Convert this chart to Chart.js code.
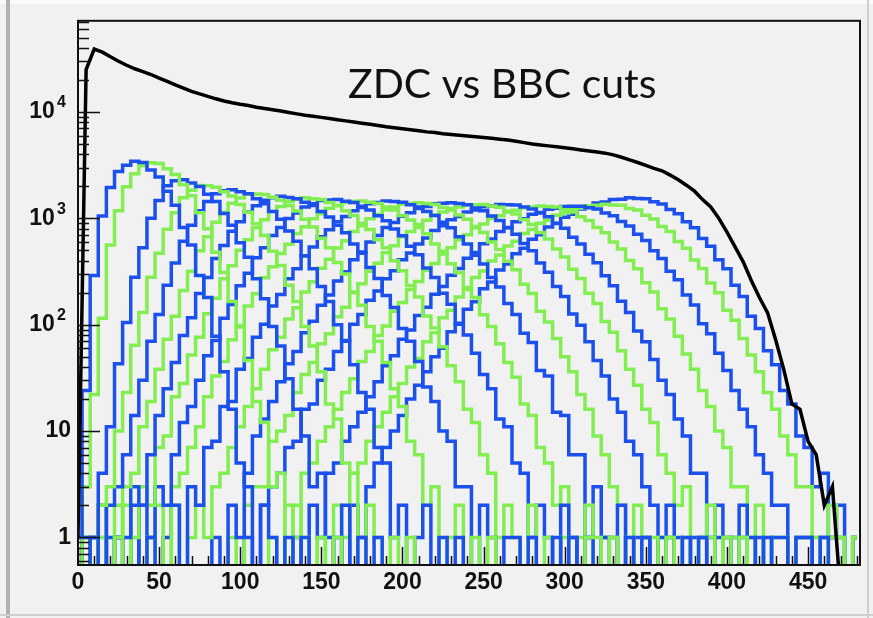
<!DOCTYPE html>
<html>
<head>
<meta charset="utf-8">
<script src="https://cdn.jsdelivr.net/npm/chart.js@4.4.1/dist/chart.umd.min.js"></script>
<style>
  html, body { margin: 0; padding: 0; background: #fff; }
  #wrap { width: 873px; height: 618px; }
</style>
</head>
<body>
<div id="wrap"><canvas id="zdcChart" width="873" height="618"></canvas></div>
<script>
// ZDC spectrum, bins of 5 units from 0 to 480
const binWidth = 5;
const xTickValues = [0, 50, 100, 150, 200, 250, 300, 350, 400, 450];
const yTickValues = [1, 10, 100, 1000, 10000];
const yTickBase = ['1', '10', '10', '10', '10'];
const yTickPower = ['', '', '2', '3', '4'];

// all events (black)
const totalCounts = [1, 25000, 39000, 36500, 33000, 30000, 27500, 25500, 24000, 22500, 20800, 19400, 18000, 16800, 15600, 14800, 14000, 13300, 12700, 12200,
  11800, 11500, 11100, 10800, 10500, 10200, 9900, 9600, 9300, 9100, 8900, 8700, 8450, 8250, 8050, 7850, 7650, 7450, 7250, 7100,
  6950, 6800, 6650, 6500, 6400, 6250, 6150, 6050, 5950, 5850, 5750, 5650, 5550, 5450, 5300, 5150, 5000, 4900, 4800, 4700,
  4600, 4500, 4400, 4300, 4200, 4100, 3950, 3750, 3550, 3350, 3150, 2950, 2800, 2550, 2300, 2050, 1800, 1500, 1280, 1000,
  740, 540, 390, 260, 180, 130, 72, 38, 18, 16, 8, 6, 2, 3, 0, 0, 0];

// BBC cut slices, first bin x of each slice
const cutStart = [0, 0, 5, 0, 0, 0, 0, 5, 10, 15, 25, 35, 85, 95, 105, 120, 135, 150, 160];
const cut00 = [1, 24, 290, 1050, 1950, 2750, 3150, 3450, 3350, 2850, 2450, 1800, 1330, 820, 560, 290, 180, 78, 36, 16, 5, 3, 0, 2, 1, 0, 1, 0, 1];
const cut01 = [0, 3, 22, 115, 560, 1180, 1980, 2620, 3120, 3330, 3270, 2920, 2580, 2070, 1630, 1130, 800, 480, 310, 165, 95, 46, 19, 12, 3, 4, 0, 2, 1, 0, 1, 0, 1];
const cut02 = [1, 0, 4, 11, 43, 105, 280, 530, 1000, 1470, 2030, 2260, 2300, 2150, 1990, 1680, 1440, 1110, 860, 590, 430, 270, 175, 96, 63, 31, 16, 9, 3, 4, 1, 0, 2, 0, 1, 0, 1];
const cut03 = [0, 1, 0, 2, 3, 10, 23, 64, 130, 280, 470, 790, 1130, 1560, 1840, 2040, 2030, 1960, 1780, 1620, 1350, 1140, 890, 690, 490, 360, 235, 165, 96, 63, 36, 18, 13, 5, 4, 0, 2, 1, 0, 1, 0, 1];
const cut04 = [1, 0, 1, 0, 2, 3, 6, 14, 30, 70, 125, 235, 380, 610, 860, 1180, 1440, 1700, 1820, 1860, 1780, 1700, 1530, 1370, 1160, 980, 760, 610, 445, 335, 228, 165, 100, 70, 42, 23, 16, 7, 5, 1, 2, 0, 1, 2, 0, 1, 0, 1];
const cut05 = [0, 1, 0, 2, 0, 1, 3, 4, 11, 19, 38, 73, 120, 210, 318, 495, 670, 920, 1140, 1385, 1550, 1680, 1690, 1675, 1580, 1480, 1320, 1175, 980, 830, 650, 530, 385, 300, 203, 152, 96, 70, 44, 25, 17, 8, 6, 2, 3, 0, 1, 2, 0, 1, 0, 1];
const cut06 = [1, 0, 1, 2, 0, 1, 1, 3, 2, 6, 14, 25, 44, 79, 116, 196, 278, 420, 555, 755, 930, 1150, 1310, 1480, 1560, 1610, 1570, 1530, 1420, 1320, 1160, 1030, 860, 730, 575, 470, 345, 272, 188, 145, 92, 70, 45, 26, 19, 10, 8, 3, 3, 0, 2, 1, 0, 1, 1, 0, 1, 0, 0, 1, 0, 1];
const cut07 = [1, 0, 1, 0, 2, 0, 1, 3, 2, 7, 9, 21, 28, 52, 76, 127, 177, 270, 358, 500, 630, 815, 970, 1160, 1290, 1440, 1500, 1560, 1530, 1500, 1410, 1320, 1180, 1065, 900, 785, 630, 530, 400, 322, 233, 182, 121, 93, 62, 41, 29, 16, 12, 6, 4, 1, 2, 1, 0, 2, 0, 1, 0, 1, 0, 0, 1, 1, 0, 1];
const cut08 = [1, 0, 1, 1, 0, 2, 0, 1, 3, 2, 6, 12, 17, 30, 51, 71, 115, 155, 232, 305, 425, 530, 690, 820, 995, 1120, 1280, 1370, 1470, 1490, 1500, 1450, 1410, 1300, 1200, 1060, 950, 795, 685, 545, 455, 342, 277, 197, 156, 103, 80, 54, 34, 25, 13, 11, 5, 4, 1, 2, 1, 0, 2, 1, 0, 1, 0, 1, 1, 0, 1, 0, 1];
const cut09 = [1, 0, 1, 2, 0, 0, 1, 2, 0, 3, 4, 7, 11, 21, 33, 45, 72, 98, 150, 195, 276, 350, 468, 570, 720, 835, 990, 1105, 1245, 1320, 1410, 1440, 1455, 1415, 1375, 1280, 1200, 1065, 965, 820, 715, 575, 490, 375, 308, 224, 180, 124, 96, 66, 44, 32, 18, 14, 7, 5, 2, 3, 0, 1, 2, 0, 1, 1, 0, 1, 0, 1, 1, 0, 1];
const cut10 = [1, 0, 0, 2, 1, 0, 1, 2, 0, 3, 2, 7, 8, 17, 19, 38, 48, 76, 101, 150, 192, 270, 335, 445, 538, 672, 780, 930, 1040, 1180, 1265, 1370, 1410, 1455, 1440, 1415, 1340, 1280, 1160, 1065, 920, 815, 670, 575, 450, 372, 278, 226, 158, 125, 83, 68, 37, 33, 15, 14, 6, 6, 1, 3, 1, 0, 2, 0, 1, 1, 0, 1, 1, 0, 1, 0, 1];
const cut11 = [1, 0, 1, 0, 0, 2, 0, 1, 2, 1, 3, 4, 7, 11, 17, 25, 38, 58, 76, 113, 144, 203, 254, 340, 412, 525, 615, 750, 850, 990, 1085, 1205, 1270, 1355, 1375, 1405, 1380, 1350, 1265, 1200, 1075, 980, 840, 735, 600, 510, 395, 328, 240, 196, 134, 106, 74, 50, 36, 22, 16, 9, 6, 3, 2, 0, 2, 1, 0, 1, 1, 0, 1, 0, 1, 1, 0, 1, 0, 1];
const cut12 = [1, 0, 2, 1, 4, 9, 13, 19, 29, 43, 56, 84, 108, 152, 190, 258, 314, 408, 482, 598, 690, 820, 915, 1045, 1130, 1240, 1295, 1370, 1385, 1405, 1375, 1340, 1250, 1180, 1050, 955, 815, 710, 580, 495, 380, 312, 228, 184, 126, 99, 69, 46, 33, 20, 15, 8, 6, 3, 2, 0, 2, 1, 0, 1, 1, 0, 1, 1, 0, 1, 1, 0, 1];
const cut13 = [1, 0, 2, 3, 3, 8, 10, 14, 23, 34, 44, 66, 82, 119, 146, 200, 242, 318, 378, 475, 552, 670, 750, 875, 960, 1075, 1145, 1240, 1280, 1340, 1345, 1350, 1305, 1270, 1170, 1100, 970, 875, 735, 640, 515, 432, 332, 272, 198, 158, 107, 85, 57, 38, 27, 16, 12, 6, 4, 2, 3, 0, 1, 2, 0, 1, 1, 0, 1, 0, 1];
const cut14 = [1, 0, 2, 3, 4, 7, 8, 16, 18, 30, 38, 56, 71, 101, 125, 170, 207, 270, 322, 408, 472, 575, 652, 770, 850, 970, 1040, 1145, 1200, 1285, 1310, 1350, 1345, 1335, 1275, 1225, 1120, 1035, 900, 805, 665, 575, 460, 382, 288, 232, 166, 130, 87, 69, 47, 30, 22, 13, 9, 4, 4, 1, 2, 0, 1, 2, 0, 1, 0, 1, 1, 0, 1, 1, 0, 1];
const cut15 = [1, 0, 2, 1, 4, 5, 8, 11, 16, 23, 31, 45, 56, 79, 97, 134, 162, 214, 255, 325, 376, 463, 528, 628, 702, 815, 885, 995, 1055, 1150, 1190, 1260, 1275, 1305, 1290, 1275, 1205, 1145, 1035, 955, 822, 730, 598, 515, 402, 335, 248, 203, 141, 113, 78, 53, 38, 24, 17, 10, 7, 3, 3, 1, 2, 0, 1, 1, 0, 1, 1, 1, 0, 1, 1, 0, 1];
const cut16 = [1, 0, 2, 1, 4, 5, 8, 11, 15, 21, 29, 41, 51, 73, 89, 122, 146, 193, 228, 292, 338, 422, 478, 578, 640, 752, 820, 928, 990, 1095, 1135, 1220, 1245, 1295, 1300, 1300, 1260, 1225, 1125, 1060, 932, 845, 708, 620, 496, 420, 318, 264, 190, 153, 102, 82, 54, 37, 24, 16, 11, 6, 4, 2, 2, 0, 1, 1, 0, 1, 1, 1, 0, 1];
const cut17 = [1, 0, 2, 1, 4, 5, 8, 11, 15, 21, 28, 40, 48, 69, 84, 116, 137, 182, 214, 277, 320, 398, 452, 548, 610, 720, 785, 898, 958, 1070, 1120, 1215, 1250, 1315, 1325, 1360, 1335, 1325, 1240, 1195, 1070, 985, 836, 750, 605, 522, 405, 338, 246, 200, 137, 110, 74, 52, 36, 23, 16, 9, 6, 3, 3, 1, 0, 2, 1, 0, 1];
const cut18 = [1, 0, 2, 1, 3, 5, 7, 10, 14, 20, 27, 36, 50, 60, 86, 101, 140, 164, 218, 252, 326, 372, 465, 522, 635, 700, 830, 895, 1025, 1090, 1225, 1280, 1390, 1425, 1505, 1515, 1560, 1535, 1525, 1430, 1365, 1210, 1105, 930, 815, 645, 545, 408, 335, 235, 184, 120, 92, 57, 42, 24, 18, 9, 7, 3, 4, 1, 2, 0, 1];

const cuts = [cut00, cut01, cut02, cut03, cut04, cut05, cut06, cut07, cut08, cut09,
  cut10, cut11, cut12, cut13, cut14, cut15, cut16, cut17, cut18];

const xMax = 482;
const nBins = 97;
const emptyBin = 0.3; // below the axis, so empty bins drop to the frame
const blue = '#1b50ec';
const green = '#83ee52';

function toPoints(values, start) {
  const pts = [];
  const s = start / binWidth;
  for (let i = 0; i < nBins; i++) {
    const j = i - s;
    const v = (j >= 0 && j < values.length) ? values[j] : 0;
    pts.push({ x: i * binWidth, y: v > 0 ? v : emptyBin });
  }
  return pts;
}

const datasets = [{
  label: 'all',
  data: toPoints(totalCounts, 0),
  borderColor: '#000',
  borderWidth: 3.5,
  clip: 0
}];
cuts.forEach((c, k) => {
  datasets.push({
    label: 'cut ' + k,
    data: toPoints(c, cutStart[k]),
    borderColor: k % 2 === 0 ? blue : green,
    borderWidth: 3.5,
    stepped: 'middle',
    clip: 0
  });
});

const rootFrame = {
  id: 'rootFrame',
  beforeDraw(chart) {
    const c = chart.ctx;
    c.save();
    c.fillStyle = '#f1f1f1';
    c.fillRect(0, 0, chart.width, chart.height);
    c.fillStyle = '#fafafa';
    c.fillRect(0, 0, chart.width, 4);
    c.fillStyle = '#b2b2b2';
    c.fillRect(6, 0, 4, chart.height);
    c.fillStyle = '#cfcfcf';
    c.fillRect(0, 614, chart.width, 2);
    c.fillRect(867, 0, 2, chart.height);
    c.restore();
  },
  afterDatasetsDraw(chart) {
    const c = chart.ctx;
    const a = chart.chartArea;
    const x = chart.scales.x;
    const y = chart.scales.y;
    c.save();
    c.strokeStyle = '#111';
    c.lineWidth = 2;
    c.strokeRect(a.left, a.top, a.right - a.left, a.bottom - a.top);
    c.lineWidth = 1.5;
    c.beginPath();
    for (let v = 0; v <= x.max; v += 10) {
      const px = Math.round(x.getPixelForValue(v)) + 0.5;
      const len = v % 50 === 0 ? 18 : 9;
      c.moveTo(px, a.bottom);
      c.lineTo(px, a.bottom - len);
    }
    for (let e = -1; e <= 4; e++) {
      for (let d = 1; d <= 9; d++) {
        const v = d * Math.pow(10, e);
        if (v < y.min || v > y.max) continue;
        const py = Math.round(y.getPixelForValue(v)) + 0.5;
        const len = d === 1 ? 22 : 11;
        c.moveTo(a.left, py);
        c.lineTo(a.left + len, py);
      }
    }
    c.stroke();
    // exponents of the decade labels
    c.fillStyle = '#111';
    c.font = 'bold 16px "Liberation Sans", Arial, sans-serif';
    c.textAlign = 'left';
    c.textBaseline = 'middle';
    yTickValues.forEach((v, i) => {
      if (yTickPower[i]) c.fillText(yTickPower[i], 57, y.getPixelForValue(v) - 9);
    });
    c.restore();
  },
  afterDraw(chart) {
    const c = chart.ctx;
    c.save();
    c.fillStyle = '#111';
    c.font = '41px Lato, "Open Sans", sans-serif';
    c.textBaseline = 'alphabetic';
    c.fillText('ZDC vs BBC cuts', 348, 98);
    c.restore();
  }
};

const tickFont = { family: '"Liberation Sans", Arial, Helvetica, sans-serif', size: 23, weight: 'bold' };

new Chart(document.getElementById('zdcChart'), {
  type: 'line',
  data: { datasets },
  options: {
    responsive: false,
    animation: false,
    events: [],
    layout: { padding: { top: 11, right: 13, left: 0, bottom: 0 } },
    elements: { point: { radius: 0 }, line: { tension: 0 } },
    plugins: { legend: { display: false }, tooltip: { enabled: false }, title: { display: false } },
    scales: {
      x: {
        type: 'linear',
        min: 0,
        max: xMax,
        grid: { display: false, drawTicks: false },
        border: { display: false },
        afterBuildTicks: s => { s.ticks = xTickValues.map(v => ({ value: v })); },
        afterFit: s => { s.height = 53; },
        ticks: { color: '#111', font: tickFont, padding: 4, maxRotation: 0, autoSkip: false }
      },
      y: {
        type: 'logarithmic',
        min: 0.55,
        max: 72000,
        grid: { display: false, drawTicks: false },
        border: { display: false },
        afterBuildTicks: s => { s.ticks = yTickValues.map(v => ({ value: v })); },
        afterFit: s => { s.width = 78; },
        ticks: {
          color: '#111',
          font: tickFont,
          padding: 7,
          autoSkip: false,
          callback: v => {
            const i = yTickValues.indexOf(v);
            return yTickPower[i] ? yTickBase[i] + '\u2002\u2009' : yTickBase[i];
          }
        }
      }
    }
  },
  plugins: [rootFrame]
});
</script>
</body>
</html>
